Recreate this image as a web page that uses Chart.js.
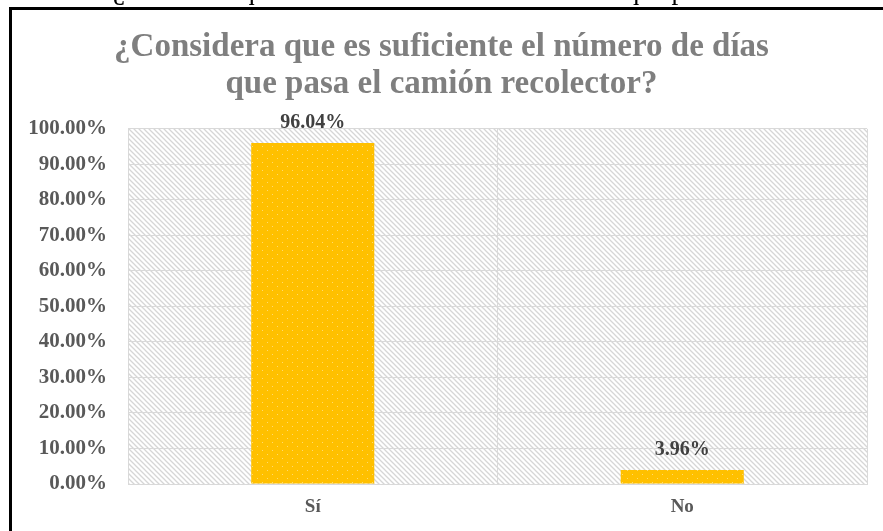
<!DOCTYPE html>
<html lang="es">
<head>
<meta charset="utf-8">
<title>Frecuencia del camión recolector</title>
<script src="https://cdn.jsdelivr.net/npm/chart.js@4.4.1/dist/chart.umd.min.js"></script>
<style>
  html, body { margin: 0; padding: 0; background: #fff; }
  canvas { display: block; }
</style>
</head>
<body>
<canvas id="respuestasChart" width="883" height="531"></canvas>
<script>
// Datos de la encuesta
const categorias = ['Sí', 'No'];
const porcentajes = [96.04, 3.96];
const tituloLineas = ['¿Considera que es suficiente el número de días', 'que pasa el camión recolector?'];
const pregunta = '¿Considera que es suficiente el número de días que pasa el camión recolector?';

const SERIF = '"Liberation Serif", "Times New Roman", serif';

// Fondo rayado del área de trazado
function rayado() {
    const c = document.createElement('canvas');
    c.width = 5; c.height = 5;
    const g = c.getContext('2d');
    g.fillStyle = '#ffffff';
    g.fillRect(0, 0, 5, 5);
    g.strokeStyle = '#d6d6d6';
    g.lineWidth = 1.3;
    g.beginPath();
    g.moveTo(-1, -1); g.lineTo(6, 6);
    g.moveTo(-1, 4); g.lineTo(1, 6);
    g.moveTo(4, -1); g.lineTo(6, 1);
    g.stroke();
    return g.createPattern(c, 'repeat');
}

// Relleno dorado con puntitos claros
function punteado() {
    const c = document.createElement('canvas');
    c.width = 10; c.height = 8;
    const g = c.getContext('2d');
    g.fillStyle = '#ffc000';
    g.fillRect(0, 0, 10, 8);
    g.fillStyle = '#ffdb6e';
    g.fillRect(2, 2, 1, 1);
    g.fillRect(7, 6, 1, 1);
    return g.createPattern(c, 'repeat');
}

const ctx = document.getElementById('respuestasChart').getContext('2d');

const marco = {
    id: 'marco',
    beforeDraw(chart) {
        const c = chart.ctx;
        const a = chart.chartArea;
        c.save();
        c.fillStyle = '#ffffff';
        c.fillRect(0, 0, chart.width, chart.height);
        // pie de figura cortado arriba
        c.fillStyle = '#000000';
        c.font = '27px ' + SERIF;
        c.textAlign = 'left';
        c.textBaseline = 'alphabetic';
        c.fillText(pregunta, 113, -1);
        // borde del gráfico
        c.fillRect(9, 7, 3, chart.height);
        c.fillRect(9, 7, chart.width, 3);
        // área de trazado
        c.fillStyle = rayado();
        c.fillRect(a.left, a.top, a.right - a.left, a.bottom - a.top);
        c.restore();
    }
};

const etiquetas = {
    id: 'etiquetas',
    afterDatasetsDraw(chart) {
        const c = chart.ctx;
        const meta = chart.getDatasetMeta(0);
        c.save();
        c.fillStyle = '#404040';
        c.font = 'bold 20px ' + SERIF;
        c.textAlign = 'center';
        c.textBaseline = 'alphabetic';
        meta.data.forEach((bar, i) => {
            c.fillText(porcentajes[i].toFixed(2) + '%', bar.x, bar.y - 15);
        });
        c.restore();
    }
};

new Chart(ctx, {
    type: 'bar',
    data: {
        labels: categorias,
        datasets: [{
            data: porcentajes,
            backgroundColor: punteado(),
            borderWidth: 0,
            categoryPercentage: 1,
            barPercentage: 0.333
        }]
    },
    options: {
        responsive: false,
        animation: false,
        layout: { padding: { left: 16, right: 16, top: 0, bottom: 0 } },
        plugins: {
            legend: { display: false },
            tooltip: { enabled: false },
            title: {
                display: true,
                text: tituloLineas,
                color: '#7f7f7f',
                font: { family: SERIF, size: 33, weight: 'bold', lineHeight: 1.15 },
                padding: { top: 28, bottom: 25 }
            }
        },
        scales: {
            x: {
                offset: true,
                grid: { color: '#d9d9d9', offset: true, drawTicks: false },
                border: { color: '#d9d9d9' },
                ticks: {
                    color: '#595959',
                    font: { family: SERIF, size: 19, weight: 'bold' },
                    padding: 12
                },
                afterFit(scale) { scale.height = 47; }
            },
            y: {
                min: 0,
                max: 100,
                grid: { color: '#d9d9d9', drawTicks: false },
                border: { color: '#d9d9d9' },
                ticks: {
                    stepSize: 10,
                    color: '#595959',
                    font: { family: SERIF, size: 21, weight: 'bold' },
                    padding: 21,
                    callback: v => v.toFixed(2) + '%'
                },
                afterFit(scale) { scale.width = 112; }
            }
        }
    },
    plugins: [marco, etiquetas]
});
</script>
</body>
</html>
